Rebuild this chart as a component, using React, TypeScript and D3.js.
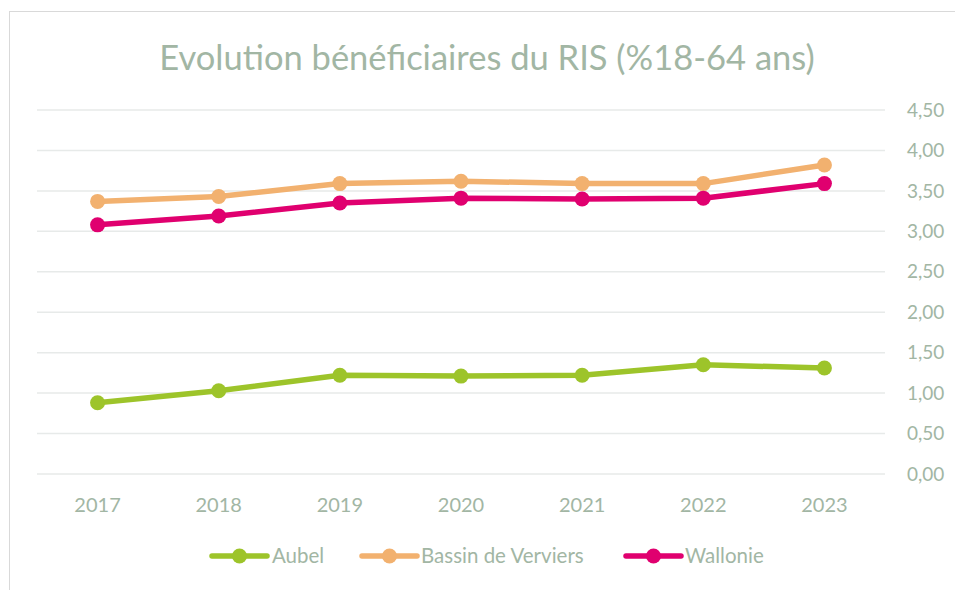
import React from "react";
import * as d3 from "d3";

const years = ["2017", "2018", "2019", "2020", "2021", "2022", "2023"];
const aubel = [0.88, 1.03, 1.22, 1.21, 1.22, 1.35, 1.31];
const bassin = [3.37, 3.43, 3.59, 3.62, 3.59, 3.59, 3.82];
const wallonie = [3.08, 3.19, 3.35, 3.41, 3.4, 3.41, 3.59];
const yTicks = [0, 0.5, 1, 1.5, 2, 2.5, 3, 3.5, 4, 4.5];
const seriesNames = ["Aubel", "Bassin de Verviers", "Wallonie"];
const title = "Evolution bénéficiaires du RIS (%18-64 ans)";

const colors = ["#9dc42a", "#f2b16f", "#e0006f"];
const textColor = "#a2b6a4";
const gridColor = "#e7eae9";
const font = "Lato, 'Open Sans', sans-serif";

export default function App() {
  const W = 955, H = 590;
  const x = d3.scaleBand<string>().domain(years).range([37, 885]);
  const y = d3.scaleLinear().domain([0, 4.5]).range([474, 110]);
  const cx = (d: string) => (x(d) as number) + x.bandwidth() / 2;
  const line = d3
    .line<number>()
    .x((_, i) => cx(years[i]))
    .y((v) => y(v));
  const data = [aubel, bassin, wallonie];
  const legend = [
    { lx: 212, tx: 272 },
    { lx: 362, tx: 421 },
    { lx: 626, tx: 685 },
  ];
  return (
    <svg
      width={W}
      height={H}
      style={{ position: "absolute", left: 0, top: 0, background: "#fff" }}
      fontFamily={font}
    >
      <rect x={0} y={0} width={W} height={H} fill="#fff" />
      <rect x={9.5} y={11.5} width={W + 10} height={H + 10} fill="none" stroke="#d9d9d9" strokeWidth={1} />
      <text x={487} y={70} textAnchor="middle" fontSize={34.5} fill={textColor}>
        {title}
      </text>
      {yTicks.map((t) => (
        <g key={t}>
          <line x1={37} x2={885} y1={y(t)} y2={y(t)} stroke={gridColor} strokeWidth={1.5} />
          <text x={907} y={y(t)} dy="0.35em" fontSize={19} fill={textColor}>
            {d3.format(".2f")(t).replace(".", ",")}
          </text>
        </g>
      ))}
      {years.map((yr) => (
        <text key={yr} x={cx(yr)} y={512} textAnchor="middle" fontSize={20} fill={textColor}>
          {yr}
        </text>
      ))}
      {data.map((s, k) => (
        <g key={k}>
          <path d={line(s) || ""} fill="none" stroke={colors[k]} strokeWidth={5.5} strokeLinejoin="round" />
          {s.map((v, i) => (
            <circle key={i} cx={cx(years[i])} cy={y(v)} r={7.5} fill={colors[k]} />
          ))}
        </g>
      ))}
      {seriesNames.map((n, k) => (
        <g key={n}>
          <line
            x1={legend[k].lx}
            x2={legend[k].lx + 55}
            y1={556}
            y2={556}
            stroke={colors[k]}
            strokeWidth={5.5}
            strokeLinecap="round"
          />
          <circle cx={legend[k].lx + 27.5} cy={556} r={7.5} fill={colors[k]} />
          <text x={legend[k].tx} y={556} dy="0.35em" fontSize={20.5} fill={textColor}>
            {n}
          </text>
        </g>
      ))}
    </svg>
  );
}
